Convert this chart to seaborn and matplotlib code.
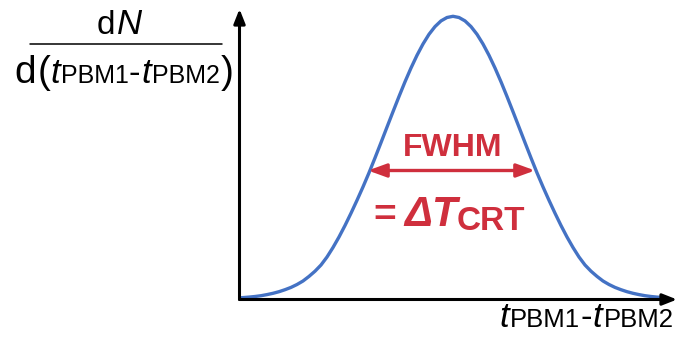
import numpy as np
import pandas as pd
import seaborn as sns
import matplotlib
matplotlib.use("Agg")
import matplotlib.pyplot as plt
from matplotlib.lines import Line2D

# ---------------- data ----------------
t_diff = [2, 5, 11, 17, 23, 29, 35, 41, 47, 53, 59, 65, 71, 77, 83, 89, 95, 101,
          107, 113, 119, 125, 131, 137, 143, 149, 155, 161, 167, 173, 179, 185,
          191, 197, 203, 209, 215, 221, 227, 233, 239, 245, 251, 257, 263, 269,
          275, 281, 287, 293, 299, 305, 311, 317, 323, 329, 335, 341, 347, 353,
          359, 365, 371, 377, 383, 389, 395, 401, 407, 413, 419, 425]
counts = [0.2, 0.4, 0.9, 1.5, 2.3, 3.4, 4.7, 6.3, 8.3, 10.6, 13.5, 17.0, 21.6,
          26.8, 33.0, 41.0, 50.5, 61.0, 72.5, 84.8, 97.7, 111.1, 125.2, 140.1,
          155.4, 170.9, 186.3, 201.5, 216.2, 230.0, 242.7, 254.0, 263.7, 271.4,
          277.1, 280.5, 281.7,
          280.5, 277.1, 271.4, 263.7, 254.0, 242.7, 230.0, 216.2, 201.5, 186.3,
          170.9, 155.4, 140.1, 125.2, 111.1, 97.7, 84.8, 72.5, 61.0, 50.5, 41.0,
          33.0, 26.8, 21.6, 17.0, 13.5, 10.6, 8.3, 6.3, 4.7, 3.4, 2.3, 1.5, 0.9,
          0.4]
fwhm_left = 130
fwhm_right = 297
half_level = 127.5

BLUE = "#4472C4"
RED = "#CF2F3D"
W, H = 678, 342

sns.set_style("white")
plt.rcParams["font.family"] = ["Liberation Sans", "DejaVu Sans"]
plt.rcParams["text.color"] = "black"

fig = plt.figure(figsize=(W / 100, H / 100), dpi=100)
ax = fig.add_axes([239.5 / W, (H - 299.5) / H, (677 - 239.5) / W, (299.5 - 9) / H])

df = pd.DataFrame({"t": t_diff, "n": counts})
sns.lineplot(data=df, x="t", y="n", ax=ax, color=BLUE, linewidth=2.4)

ax.set_xlim(1.5, 439)
ax.set_ylim(-1.5, 289)
ax.set_xticks([])
ax.set_yticks([])
ax.set_xlabel("")
ax.set_ylabel("")
for s in ax.spines.values():
    s.set_visible(False)
ax.patch.set_alpha(0)

# axis arrows
arr_kw = dict(arrowstyle="-|>,head_length=0.43,head_width=0.17", color="black",
              lw=2.2, shrinkA=0, shrinkB=0, mutation_scale=20)
ax.annotate("", xy=(1, 0), xytext=(0, 0), xycoords="axes fraction",
            textcoords="axes fraction", arrowprops=arr_kw, annotation_clip=False)
ax.annotate("", xy=(0, 1), xytext=(0, 0), xycoords="axes fraction",
            textcoords="axes fraction", arrowprops=arr_kw, annotation_clip=False)

# FWHM arrow
ax.annotate("", xy=(fwhm_right, half_level), xytext=(fwhm_left, half_level),
            arrowprops=dict(arrowstyle="<|-|>,head_length=0.55,head_width=0.2",
                            color=RED, lw=2.4, shrinkA=0, shrinkB=0,
                            mutation_scale=20))

renderer = fig.canvas.get_renderer()


def ptext(x, y, s, size, **kw):
    return fig.text(x / W, 1 - y / H, s, fontsize=size, ha=kw.pop("ha", "left"),
                    va="baseline", **kw)


def run(x0, base, pieces, **kw):
    """Lay out text pieces one after the other on a common baseline."""
    x = x0
    for s, size, style, dy, gap in pieces:
        t = ptext(x, base + dy, s, size, fontstyle=style, **kw)
        x += t.get_window_extent(renderer).width + gap
    return x


# FWHM = ΔT_CRT
ptext(452.5, 156, "FWHM", 23, ha="center", color=RED, fontweight="bold")
run(373, 226, [("=", 28, "normal", 0, 9),
               ("ΔT", 30, "italic", 0, -2),
               ("CRT", 24, "normal", 4, 0)], color=RED, fontweight="bold")

# y label: dN / d(t_PBM1 - t_PBM2)
run(97, 33.5, [("d", 24, "normal", 0, 1.5), ("N", 25, "italic", 0, 0)])
fig.add_artist(Line2D([30 / W, 222 / W], [1 - 44 / H, 1 - 44 / H],
                      color="black", lw=1.1))
run(14, 82.7, [("d", 28, "normal", 0, 1.5),
               ("(", 28, "normal", 0, 0),
               ("t", 25, "italic", 0, 1),
               ("PBM1", 18, "normal", 0, 0.5),
               ("-", 25, "normal", 0, 1),
               ("t", 25, "italic", 0, 1),
               ("PBM2", 18, "normal", 0, 1),
               (")", 28, "normal", 0, 0)])

# x label: t_PBM1 - t_PBM2
run(499, 327, [("t", 25, "italic", 0, 1),
               ("PBM1", 18.5, "normal", 0, 0.5),
               ("-", 25, "normal", 0, 1),
               ("t", 25, "italic", 0, 1),
               ("PBM2", 18.5, "normal", 0, 0)])

fig.savefig("out.png", dpi=100)
